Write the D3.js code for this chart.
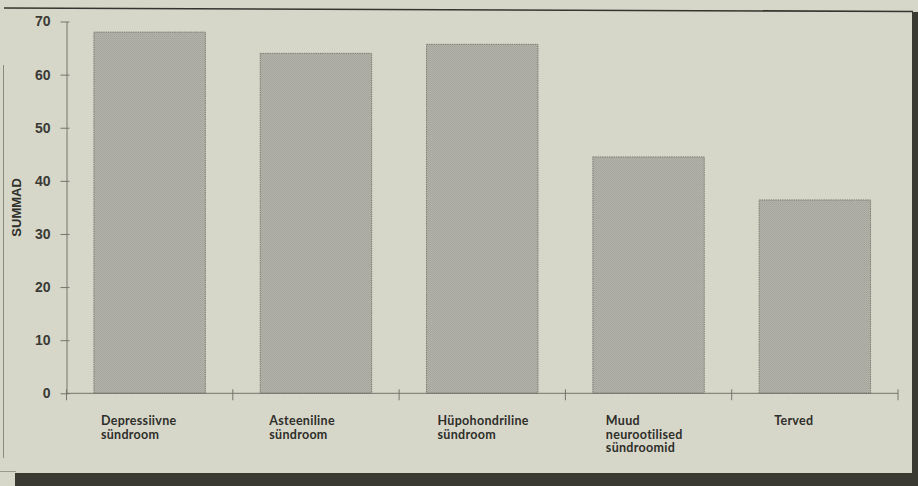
<!DOCTYPE html>
<html>
<head>
<meta charset="utf-8">
<script src="https://cdn.jsdelivr.net/npm/d3@7"></script>
<style>
  html, body { margin: 0; padding: 0; background: #d7d7c9; }
  svg { display: block; }
</style>
</head>
<body>
<svg id="chart" width="918" height="486"></svg>
<script>
// Syndrome groups and their summed scores
const categories = [
  ["Depressiivne", "sündroom"],
  ["Asteeniline", "sündroom"],
  ["Hüpohondriline", "sündroom"],
  ["Muud", "neurootilised", "sündroomid"],
  ["Terved"]
];
const values = [68, 64, 65.7, 44.5, 36.4];
const yTicks = [0, 10, 20, 30, 40, 50, 60, 70];
const yLabel = "SUMMAD";

const W = 918, H = 486;
const svg = d3.select("#chart");
const ids = categories.map((c, i) => "c" + i);

// page background
svg.append("rect").attr("width", W).attr("height", H).attr("fill", "#d7d7c9");

// halftone stipple for the bars
const defs = svg.append("defs");
const pat = defs.append("pattern").attr("id", "stipple")
  .attr("width", 2).attr("height", 2).attr("patternUnits", "userSpaceOnUse");
pat.append("rect").attr("width", 2).attr("height", 2).attr("fill", "#b3b3aa");
pat.append("rect").attr("width", 1).attr("height", 1).attr("fill", "#a2a29a");
pat.append("rect").attr("x", 1).attr("y", 1).attr("width", 1).attr("height", 1).attr("fill", "#a8a8a0");

const x = d3.scaleBand().domain(ids).range([66.5, 898]).paddingInner(0.33).paddingOuter(0.165);
const y = d3.scaleLinear().domain([0, 70]).range([393.3, 21.5]);

// frame of the printed page
svg.append("line").attr("x1", 4).attr("y1", 8).attr("x2", 913).attr("y2", 11.5)
  .attr("stroke", "#35352f").attr("stroke-width", 1.6);
svg.append("line").attr("x1", 3.5).attr("y1", 65).attr("x2", 3.5).attr("y2", 458)
  .attr("stroke", "#8a8a80").attr("stroke-width", 1);
svg.append("line").attr("x1", 0).attr("y1", 471.5).attr("x2", 16).attr("y2", 471.5)
  .attr("stroke", "#9a9a90").attr("stroke-width", 1);
svg.append("rect").attr("x", 15).attr("y", 473).attr("width", W - 15).attr("height", H - 473)
  .attr("fill", "#3b3a32");
svg.append("rect").attr("x", 912).attr("y", 12).attr("width", W - 912).attr("height", H - 12)
  .attr("fill", "#3b3a32");

// bars
svg.append("g").selectAll("rect").data(values).join("rect")
  .attr("x", (d, i) => x(ids[i]))
  .attr("y", d => y(d))
  .attr("width", x.bandwidth())
  .attr("height", d => y(0) - y(d))
  .attr("fill", "url(#stipple)")
  .attr("stroke", "#7c7c74")
  .attr("stroke-width", 1)
  .attr("stroke-dasharray", "1.5,0.8");

// y axis
const yAxis = d3.axisLeft(y).tickValues(yTicks).tickSizeInner(6).tickSizeOuter(0).tickPadding(10);
const gy = svg.append("g").attr("transform", "translate(66.5,0)").call(yAxis);
gy.select(".domain").attr("stroke", "#74746c").attr("stroke-width", 1);
gy.selectAll(".tick line").attr("stroke", "#74746c").attr("x2", -6).attr("x1", 3);
gy.selectAll(".tick text")
  .attr("font-family", "'Liberation Sans', Arial, sans-serif")
  .attr("font-weight", "bold").attr("font-size", 14).attr("fill", "#3a3a36")
  .attr("x", -16);

svg.append("text")
  .attr("transform", `translate(21,${(y(0) + y(70)) / 2}) rotate(-90)`)
  .attr("text-anchor", "middle")
  .attr("font-family", "'Liberation Sans', Arial, sans-serif")
  .attr("font-weight", "bold").attr("font-size", 13).attr("fill", "#2f2f2b")
  .text(yLabel);

// x axis line with ticks at the band boundaries
const step = x.step();
const edges = ids.map(id => x(id) - (step - x.bandwidth()) / 2).concat([x.range()[1]]);
svg.append("line").attr("x1", x.range()[0]).attr("x2", x.range()[1])
  .attr("y1", y(0)).attr("y2", y(0)).attr("stroke", "#74746c").attr("stroke-width", 1);
svg.append("g").selectAll("line").data(edges).join("line")
  .attr("x1", d => d).attr("x2", d => d)
  .attr("y1", y(0) - 4).attr("y2", y(0) + 7)
  .attr("stroke", "#74746c").attr("stroke-width", 1);

// category labels, left-aligned under each bar
const lab = svg.append("g").selectAll("text").data(categories).join("text")
  .attr("font-family", "Lato, 'Open Sans', sans-serif")
  .attr("font-weight", "bold").attr("font-size", 12.5).attr("fill", "#2e2e2a")
  .attr("letter-spacing", 0.3)
  .attr("transform", (d, i) => `translate(${x(ids[i]) + 7 + i * 2},425)`);
lab.selectAll("tspan").data(d => d).join("tspan")
  .attr("x", 0).attr("dy", (d, j) => j === 0 ? 0 : 13.5)
  .text(d => d);
</script>
</body>
</html>
